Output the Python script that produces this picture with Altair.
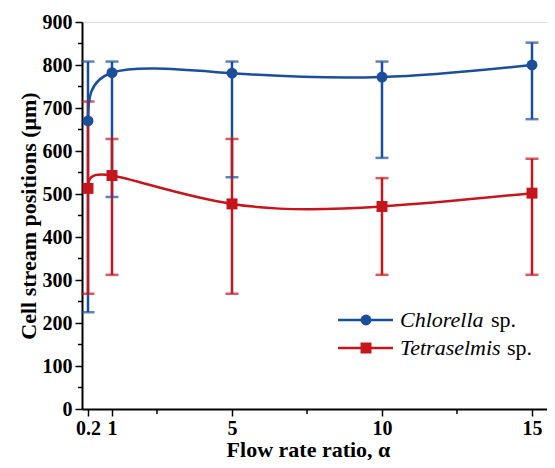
import altair as alt
import pandas as pd

ratios = [0.2, 1, 5, 10, 15]
chlorella_mean = [670, 782, 781, 772, 800]
chlorella_hi = [808, 808, 808, 808, 852]
chlorella_lo = [225, 493, 539, 584, 674]
tetra_mean = [513, 543, 477, 471, 502]
tetra_hi = [715, 628, 628, 537, 582]
tetra_lo = [268, 312, 268, 312, 312]
series_names = ["Chlorella", "Tetraselmis"]
legend_suffix = "sp."
x_ticks = [0.2, 1, 5, 10, 15]
x_minor = [2.5, 7.5, 12.5]
y_ticks = list(range(0, 901, 100))
y_minor = list(range(50, 900, 100))

BLUE = "#1b4f9c"
RED = "#c5161d"
FONT = "Liberation Serif, Times New Roman, DejaVu Serif, serif"

rows = []
for i, r in enumerate(ratios):
    rows.append({"ratio": r, "series": series_names[0], "mean": chlorella_mean[i],
                 "lo": chlorella_lo[i], "hi": chlorella_hi[i]})
for i, r in enumerate(ratios):
    rows.append({"ratio": r, "series": series_names[1], "mean": tetra_mean[i],
                 "lo": tetra_lo[i], "hi": tetra_hi[i]})
df = pd.DataFrame(rows)

x_scale = alt.Scale(domain=[0, 15.5], nice=False, zero=False)
y_scale = alt.Scale(domain=[0, 900], nice=False)

x_axis = alt.Axis(values=x_ticks, title="Flow rate ratio, α", grid=False,
                  labelFont=FONT, labelFontSize=20, labelFontWeight="bold", labelColor="black",
                  labelPadding=2, labelFlush=False, labelOverlap=False,
                  titleFont=FONT, titleFontSize=22, titleFontWeight="bold", titleColor="black",
                  titlePadding=1, titleX=226,
                  tickSize=7, tickWidth=1.5, tickColor="black",
                  domainColor="black", domainWidth=2,
                  format="~g")
y_axis = alt.Axis(values=y_ticks, title="Cell stream positions (μm)", grid=False,
                  labelFont=FONT, labelFontSize=20, labelFontWeight="bold", labelColor="black",
                  labelPadding=3, labelFlush=False,
                  titleFont=FONT, titleFontSize=22, titleFontWeight="bold", titleColor="black",
                  titlePadding=2,
                  tickSize=7, tickWidth=1.5, tickColor="black",
                  domainColor="black", domainWidth=2)

def X(field):
    return alt.X(f"{field}:Q", scale=x_scale, axis=x_axis)

def Y(field):
    return alt.Y(f"{field}:Q", scale=y_scale, axis=y_axis)

color = alt.Color("series:N", scale=alt.Scale(domain=series_names, range=[BLUE, RED]), legend=None)
shape = alt.Shape("series:N", scale=alt.Scale(domain=series_names, range=["circle", "square"]), legend=None)

base = alt.Chart(df)

err = base.mark_rule(strokeWidth=2.5).encode(x=X("ratio"), y=Y("lo"), y2="hi:Q", color=color)
cap_hi = base.mark_tick(orient="horizontal", size=13, thickness=2.5).encode(x=X("ratio"), y=Y("hi"), color=color)
cap_lo = base.mark_tick(orient="horizontal", size=13, thickness=2.5).encode(x=X("ratio"), y=Y("lo"), color=color)
line = base.mark_line(interpolate="natural", strokeWidth=2.5).encode(x=X("ratio"), y=Y("mean"), color=color, detail="series:N")
pts = base.mark_point(filled=True, opacity=1, size=120).encode(x=X("ratio"), y=Y("mean"), color=color, shape=shape)

xminor_df = pd.DataFrame({"ratio": x_minor})
xminor = alt.Chart(xminor_df).mark_rule(color="black", strokeWidth=1.5).encode(
    x=X("ratio"), y=alt.value(387), y2=alt.value(392))
yminor_df = pd.DataFrame({"v": y_minor})
yminor = alt.Chart(yminor_df).mark_rule(color="black", strokeWidth=1.5).encode(
    y=Y("v"), x=alt.value(-4), x2=alt.value(0))

one = pd.DataFrame({"a": [0]})
leg = []
for name, col, shp, yy, sx in [(series_names[0], BLUE, "circle", 298, 409),
                               (series_names[1], RED, "square", 326, 425)]:
    leg.append(alt.Chart(one).mark_rule(color=col, strokeWidth=2.5).encode(
        x=alt.value(256), x2=alt.value(311), y=alt.value(yy)))
    leg.append(alt.Chart(one).mark_point(filled=True, opacity=1, size=120, color=col, shape=shp).encode(
        x=alt.value(284), y=alt.value(yy)))
    leg.append(alt.Chart(one).mark_text(align="left", baseline="middle", font=FONT, fontSize=22,
                                        fontStyle="italic", color="black").encode(
        x=alt.value(318), y=alt.value(yy), text=alt.value(name)))
    leg.append(alt.Chart(one).mark_text(align="left", baseline="middle", font=FONT, fontSize=22,
                                        color="black").encode(
        x=alt.value(sx), y=alt.value(yy), text=alt.value(legend_suffix)))

chart = alt.layer(xminor, yminor, err, cap_hi, cap_lo, line, pts, *leg).properties(
    width=465, height=387,
    padding={"left": 74, "top": 14, "right": 0, "bottom": 51},
    autosize=alt.AutoSizeParams(type="none"),
).configure_view(stroke="#444", strokeWidth=1).configure(background="white")

chart.save("out.html", embed_options={"renderer": "svg", "actions": False})
